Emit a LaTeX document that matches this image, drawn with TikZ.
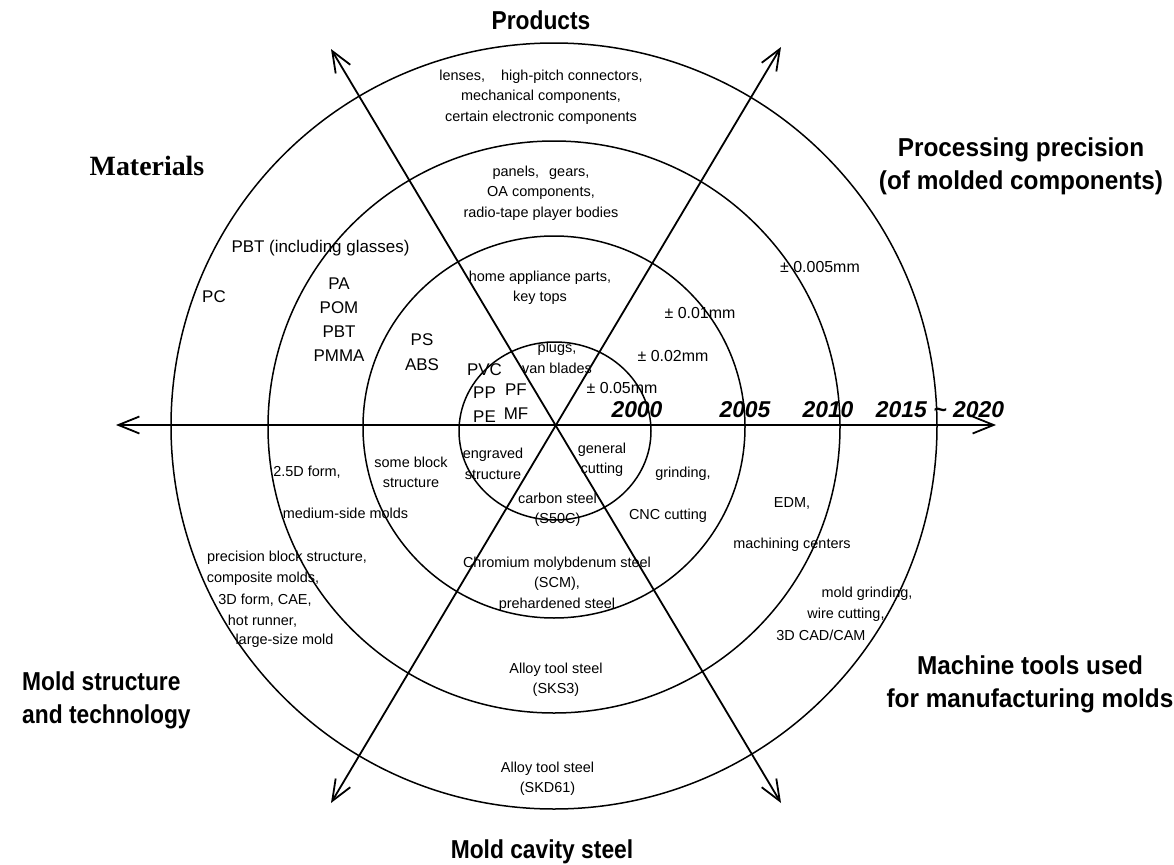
\documentclass[tikz,border=0pt]{standalone}
\usepackage{fontspec}
\setmainfont{Liberation Sans}
\newfontfamily\headfont[FakeStretch=0.88]{Liberation Sans Bold}
\newfontfamily\wideheadfont[FakeStretch=0.94]{Liberation Sans Bold}
\newfontfamily\serifhead{Liberation Serif Bold}
\usetikzlibrary{arrows.meta}

\begin{document}
\begin{tikzpicture}[x=1bp,y=-1bp,
  ring/.style={line width=1.5bp},
  axis/.style={line width=1.8bp,
    {Straight Barb[length=21bp,width=17bp]}-{Straight Barb[length=21bp,width=17bp]}},
  small/.style={font=\fontsize{14.5}{20.5}\selectfont, align=center, inner sep=0pt},
  mid/.style={font=\fontsize{17}{24}\selectfont, align=center, inner sep=0pt},
  tol/.style={font=\fontsize{16}{20}\selectfont, inner sep=0pt},
  year/.style={font=\fontsize{23}{26}\selectfont\bfseries\itshape, inner sep=0pt},
  head/.style={font=\headfont\fontsize{26}{33}\selectfont, align=center, inner sep=0pt},
  widehead/.style={font=\wideheadfont\fontsize{26}{33}\selectfont, align=center, inner sep=0pt},
]
\useasboundingbox (0,0) rectangle (1174,865);

% concentric rings
\draw[ring] (554,426) circle[radius=383];
\draw[ring] (554,427) circle[radius=286];
\draw[ring] (554,427) circle[radius=191];
\draw[ring] (555,431) ellipse[x radius=96, y radius=89];

% the three double-headed axes
\coordinate (hl) at (116,425);
\coordinate (hr) at (996,425);
\coordinate (d1a) at (331,49);
\coordinate (d1b) at (781,803);
\coordinate (d2a) at (781,47);
\coordinate (d2b) at (331,803);
\draw[axis] (hl) -- (hr);
\draw[axis] (d1a) -- (d1b);
\draw[axis] (d2a) -- (d2b);

% sector headings
\node[head] (hProducts) at (541,20) {Products};
\node[font=\serifhead\fontsize{28}{30}\selectfont, inner sep=0pt] (hMaterials) at (147,166) {Materials};
\node[widehead] (hPrecision) at (1021,166) {Processing precision\\(of molded components)};
\node[head, anchor=west, align=left] (hStructure) at (22,700) {Mold structure\\and technology};
\node[widehead] (hMachine) at (1030,684) {Machine tools used\\for manufacturing molds};
\node[head] (hSteel) at (542,852) {Mold cavity steel};

% products
\node[small] (prodA) at (541,97) {lenses,\hspace{16bp}high-pitch connectors,\\mechanical components,\\certain electronic components};
\node[small] (prodB) at (541,193) {panels,\hspace{10bp}gears,\\OA components,\\radio-tape player bodies};
\node[small] (prodC) at (540,288) {home appliance parts,\\key tops};
\node[small] (prodD) at (557,358) {plugs,\\van blades};

% precision
\node[tol] (tolA) at (622,388) {± 0.05mm};
\node[tol] (tolB) at (673,356) {± 0.02mm};
\node[tol] (tolC) at (700,313) {± 0.01mm};
\node[tol] (tolD) at (820,267) {± 0.005mm};

% years along the time axis
\node[year] (y2000) at (637,410) {2000};
\node[year] (y2005) at (745,410) {2005};
\node[year] (y2010) at (828,410) {2010};
\node[year] (y2015) at (940,410) {2015 \textasciitilde\ 2020};

% materials
\node[mid] (matA) at (484.5,393) {PVC\\PP\\PE};
\node[mid] (matB) at (516,401.5) {PF\\MF};
\node[mid, font=\fontsize{17}{25}\selectfont] (matC) at (422,352.5) {PS\\ABS};
\node[mid, font=\fontsize{17}{24.3}\selectfont] (matD) at (339,319.5) {PA\\POM\\PBT\\PMMA};
\node[mid] (matE) at (320.5,248) {PBT (including glasses)};
\node[mid] (matF) at (214,297) {PC};

% mold structure and technology
\node[small] (stA) at (493,464) {engraved\\structure};
\node[small] (stB) at (411,472.5) {some block\\structure};
\node[small] (stC) at (307,472) {2.5D form,};
\node[small] (stD) at (345.5,513) {medium-side molds};
\node[small] (stE1) at (287,558) {precision block structure,};
\node[small] (stE2) at (263,579) {composite molds,};
\node[small] (stE3) at (265,600) {3D form, CAE,};
\node[small] (stE4) at (262.5,621) {hot runner,};
\node[small] (stE5) at (284.5,641) {large-size mold};

% machine tools
\node[small] (mtA) at (602,459.5) {general\\cutting};
\node[small] (mtB) at (683,474) {grinding,};
\node[small] (mtC) at (668,516) {CNC cutting};
\node[small] (mtD) at (792,503) {EDM,};
\node[small] (mtE) at (792,545) {machining centers};
\node[small] (mtF1) at (867,594) {mold grinding,};
\node[small] (mtF2) at (846,615) {wire cutting,};
\node[small] (mtF3) at (821,635) {3D CAD/CAM};

% cavity steel
\node[small] (slA) at (557.5,510) {carbon steel\\(S50C)};
\node[small] (slB) at (557,584) {Chromium molybdenum steel\\(SCM),\\prehardened steel};
\node[small] (slC) at (556,679.5) {Alloy tool steel\\(SKS3)};
\node[small] (slD) at (547.5,779) {Alloy tool steel\\(SKD61)};
\end{tikzpicture}
\end{document}
